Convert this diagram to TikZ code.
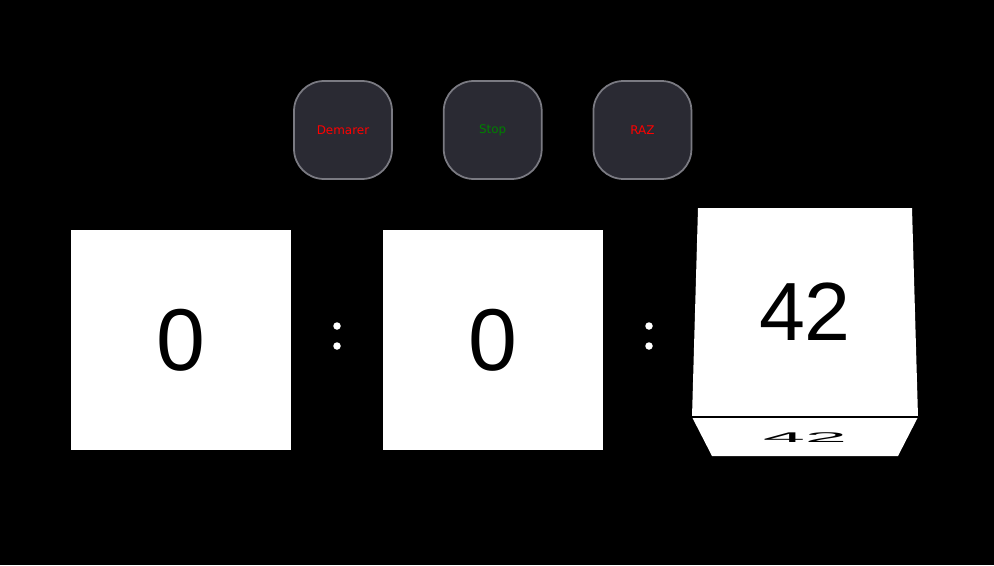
\documentclass[tikz,border=0pt]{standalone}
\usepackage{fontspec}
\setmainfont{Liberation Sans}
\newfontfamily\btnfont{DejaVu Sans}
\usetikzlibrary{positioning}
\definecolor{btnfill}{HTML}{2A2A33}
\definecolor{btnline}{HTML}{7A7A82}
\definecolor{gogreen}{HTML}{008000}
\tikzset{
	btn node/.style={rectangle,draw=btnline,line width=1pt,fill=btnfill,rounded corners=0.6cm,
		minimum size=1.96cm,inner sep=0pt,font=\btnfont\fontsize{6.8}{8}\selectfont},
	digit node/.style={rectangle,fill=white,minimum size=4.4cm,inner sep=0pt,
		font=\fontsize{50}{50}\selectfont},
	dot/.style={circle,fill=white,minimum size=0.15cm,inner sep=0pt}
}
\begin{document}
\begin{tikzpicture}[x=0.02cm,y=-0.02cm]
		\fill[black] (0,0) rectangle (994,565);
		\useasboundingbox (0,0) rectangle (994,565);

		% buttons
		\node[btn node,text=red]     (start) at (343,130)         {Demarer};
		\node[btn node,text=gogreen] (stop)  [right=1.0cm of start] {Stop};
		\node[btn node,text=red]     (raz)   [right=1.0cm of stop]  {RAZ};

		% counters
		\node[digit node] (min) at (181,340) {0};
		\node[digit node] (sec) at (493,340) {0};
		\node[dot] (c1a) at (337,326) {};
		\node[dot] (c1b) at (337,346) {};
		\node[dot] (c2a) at (649,326) {};
		\node[dot] (c2b) at (649,346) {};

		% flipping counter
		\coordinate (tl) at (698,208);
		\coordinate (tr) at (912,208);
		\coordinate (ml) at (692,417);
		\coordinate (mr) at (918,417);
		\coordinate (bl) at (712,456);
		\coordinate (br) at (898,456);
		\fill[white] (tl) -- (tr) -- (mr) -- (ml) -- cycle;
		\fill[white] (ml) -- (mr) -- (br) -- (bl) -- cycle;
		\draw[black,line width=0.6pt] (ml) -- (mr);
		\node[font=\fontsize{47}{47}\selectfont] (hund) at (805,312) {42};
		\node[inner sep=0pt,font=\fontsize{47}{47}\selectfont] (flip) at (805,438) {\scalebox{0.92}[0.17]{42}};
\end{tikzpicture}
\end{document}
